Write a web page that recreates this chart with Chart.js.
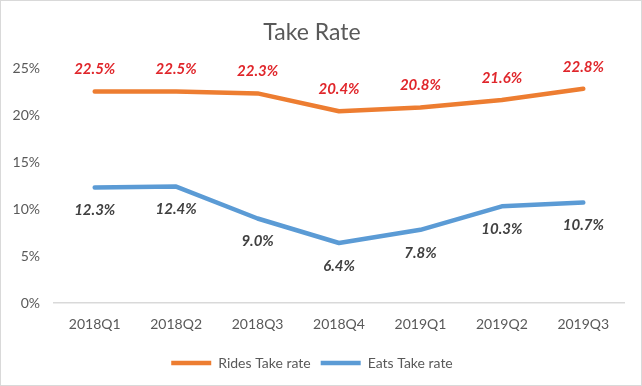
<!DOCTYPE html>
<html>
<head>
<meta charset="utf-8">
<script src="https://cdn.jsdelivr.net/npm/chart.js@4"></script>
<style>
  html, body { margin: 0; padding: 0; background: #fff; }
  #wrap { width: 642px; height: 386px; }
</style>
</head>
<body>
<div id="wrap"><canvas id="chart" width="642" height="386"></canvas></div>
<script>
// quarters and take rates (%)
const quarters = ['2018Q1', '2018Q2', '2018Q3', '2018Q4', '2019Q1', '2019Q2', '2019Q3'];
const ridesRate = [22.5, 22.5, 22.3, 20.4, 20.8, 21.6, 22.8];
const eatsRate = [12.3, 12.4, 9.0, 6.4, 7.8, 10.3, 10.7];
const yTicks = [0, 5, 10, 15, 20, 25];

const FONT = 'Lato, "Open Sans", sans-serif';

// value labels above / below each point
const valueLabels = {
  id: 'valueLabels',
  afterDatasetsDraw(chart) {
    const ctx = chart.ctx;
    ctx.save();
    ctx.font = 'italic bold 15px ' + FONT;
    ctx.textAlign = 'center';
    ctx.textBaseline = 'middle';
    chart.data.datasets.forEach((ds, i) => {
      const meta = chart.getDatasetMeta(i);
      ctx.fillStyle = ds.labelColor;
      meta.data.forEach((pt, j) => {
        ctx.fillText(ds.data[j].toFixed(1) + '%', pt.x, pt.y + ds.labelOffset);
      });
    });
    ctx.restore();
  }
};

// thin grey frame round the picture
const frame = {
  id: 'frame',
  afterDraw(chart) {
    const ctx = chart.ctx;
    ctx.save();
    ctx.strokeStyle = '#d9d9d9';
    ctx.lineWidth = 1;
    ctx.strokeRect(0.5, 0.5, chart.width - 1, chart.height - 1);
    ctx.restore();
  }
};

new Chart(document.getElementById('chart'), {
  type: 'line',
  data: {
    labels: quarters,
    datasets: [
      {
        label: 'Rides Take rate',
        data: ridesRate,
        borderColor: '#ed7d31',
        backgroundColor: '#ed7d31',
        borderWidth: 4.5,
        borderCapStyle: 'round',
        borderJoinStyle: 'round',
        pointRadius: 0,
        tension: 0,
        labelColor: '#e0262b',
        labelOffset: -22
      },
      {
        label: 'Eats Take rate',
        data: eatsRate,
        borderColor: '#5b9bd5',
        backgroundColor: '#5b9bd5',
        borderWidth: 4.5,
        borderCapStyle: 'round',
        borderJoinStyle: 'round',
        pointRadius: 0,
        tension: 0,
        labelColor: '#404040',
        labelOffset: 23
      }
    ]
  },
  options: {
    responsive: false,
    animation: false,
    layout: { padding: { left: 0, right: 18, top: 0, bottom: 6 } },
    plugins: {
      title: {
        display: true,
        text: 'Take Rate',
        color: '#595959',
        font: { family: FONT, size: 23, weight: 'normal' },
        padding: { top: 19, bottom: 21.4 }
      },
      legend: {
        position: 'bottom',
        labels: {
          usePointStyle: true,
          pointStyle: 'line',
          pointStyleWidth: 40,
          color: '#595959',
          font: { family: FONT, size: 14 },
          padding: 10
        }
      },
      tooltip: { enabled: false }
    },
    scales: {
      x: {
        offset: true,
        grid: { display: false, drawTicks: false },
        border: { display: true, color: '#d9d9d9', width: 1.5 },
        ticks: { color: '#595959', font: { family: FONT, size: 14 }, padding: 13, maxRotation: 0 }
      },
      y: {
        min: 0,
        max: 25,
        afterFit(scale) { scale.width = 54; },
        afterBuildTicks(scale) { scale.ticks = yTicks.map(v => ({ value: v })); },
        grid: { display: false, drawTicks: false },
        border: { display: false },
        ticks: {
          color: '#595959',
          font: { family: FONT, size: 14 },
          padding: 14,
          callback: v => v + '%'
        }
      }
    }
  },
  plugins: [valueLabels, frame]
});
</script>
</body>
</html>
